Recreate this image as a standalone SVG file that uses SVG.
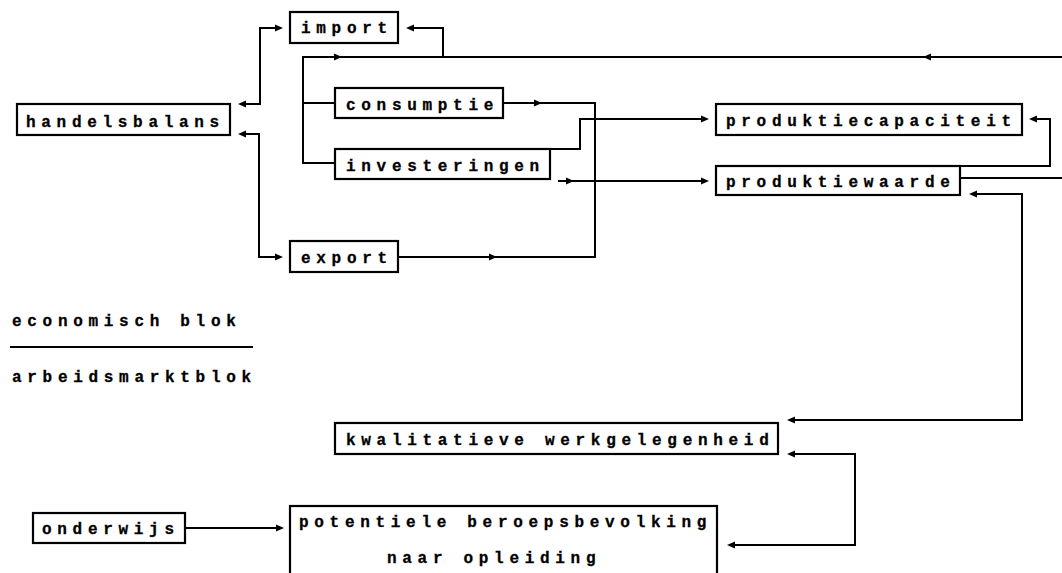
<svg xmlns="http://www.w3.org/2000/svg" xmlns:xlink="http://www.w3.org/1999/xlink" width="1062" height="573" viewBox="0 0 1062 573">
<style>
.box{fill:#fff;stroke:#000;stroke-width:2.2}
.t{font-family:"Liberation Mono","DejaVu Sans Mono",monospace;font-weight:bold;font-size:16px;letter-spacing:5.7px;fill:#000;stroke:#000;stroke-width:0.3}
.c{fill:none;stroke:#000;stroke-width:2}
</style>
<defs>
<path id="ah" d="M0,0 L-8,-3.5 L-8,3.5 Z" fill="#000"/>
</defs>
<rect width="1062" height="573" fill="#fff"/>
<g id="connectors">
<path class="c" d="M240,104 H260 V28 H276"/>
<path class="c" d="M240,134 H259 V257 H276"/>
<path class="c" d="M413,28 H443 V57"/>
<path class="c" d="M1062,57 H303 V163 H335 M303,103 H335"/>
<path class="c" d="M503,103 H595 V257 H398"/>
<path class="c" d="M550,149 H580 V119 H702"/>
<path class="c" d="M558,181 H702"/>
<path class="c" d="M960,166 H1050 V119 H1036"/>
<path class="c" d="M960,178 H1062"/>
<path class="c" d="M976,194 H1022 V420 H794"/>
<path class="c" d="M794,454 H855 V545 H734"/>
<path class="c" d="M185,528 H277"/>
<use xlink:href="#ah" transform="translate(238,104) rotate(180)"/>
<use xlink:href="#ah" transform="translate(238,134) rotate(180)"/>
<use xlink:href="#ah" transform="translate(283,28)"/>
<use xlink:href="#ah" transform="translate(283,257)"/>
<use xlink:href="#ah" transform="translate(406,28) rotate(180)"/>
<use xlink:href="#ah" transform="translate(923,57) rotate(180)"/>
<use xlink:href="#ah" transform="translate(342,57)"/>
<use xlink:href="#ah" transform="translate(542,103)"/>
<use xlink:href="#ah" transform="translate(497,257)"/>
<use xlink:href="#ah" transform="translate(709,119)"/>
<use xlink:href="#ah" transform="translate(574,181)"/>
<use xlink:href="#ah" transform="translate(709,181)"/>
<use xlink:href="#ah" transform="translate(1029,119) rotate(180)"/>
<use xlink:href="#ah" transform="translate(969,194) rotate(180)"/>
<use xlink:href="#ah" transform="translate(787,420) rotate(180)"/>
<use xlink:href="#ah" transform="translate(787,454) rotate(180)"/>
<use xlink:href="#ah" transform="translate(727,545) rotate(180)"/>
<use xlink:href="#ah" transform="translate(284,528)"/>
</g>
<g id="handelsbalans"><rect class="box" x="17" y="104" width="213" height="31"/><text class="t" x="26" y="127">handelsbalans</text></g>
<g id="import"><rect class="box" x="290" y="12" width="108" height="31"/><text class="t" x="301" y="33">import</text></g>
<g id="consumptie"><rect class="box" x="335" y="88" width="168" height="30"/><text class="t" x="346" y="110">consumptie</text></g>
<g id="investeringen"><rect class="box" x="335" y="149" width="215" height="30"/><text class="t" x="346" y="171">investeringen</text></g>
<g id="produktiecapaciteit"><rect class="box" x="716" y="104" width="306" height="31"/><text class="t" x="726" y="126">produktiecapaciteit</text></g>
<g id="produktiewaarde"><rect class="box" x="716" y="166" width="244" height="29"/><text class="t" x="726" y="187">produktiewaarde</text></g>
<g id="export"><rect class="box" x="290" y="241" width="108" height="31"/><text class="t" x="301" y="263">export</text></g>
<g id="kwalitatieve"><rect class="box" x="335" y="423" width="443" height="31"/><text class="t" x="346" y="445">kwalitatieve werkgelegenheid</text></g>
<g id="onderwijs"><rect class="box" x="33" y="513" width="152" height="30"/><text class="t" x="42" y="534">onderwijs</text></g>
<g id="potentiele"><rect class="box" x="290" y="506" width="427" height="80"/><text class="t" x="299" y="527">potentiele beroepsbevolking</text><text class="t" x="387" y="563">naar opleiding</text></g>
<g id="legend">
<text class="t" x="12" y="326">economisch blok</text>
<path class="c" d="M10,347 H253"/>
<text class="t" x="12" y="382">arbeidsmarktblok</text>
</g>
</svg>
